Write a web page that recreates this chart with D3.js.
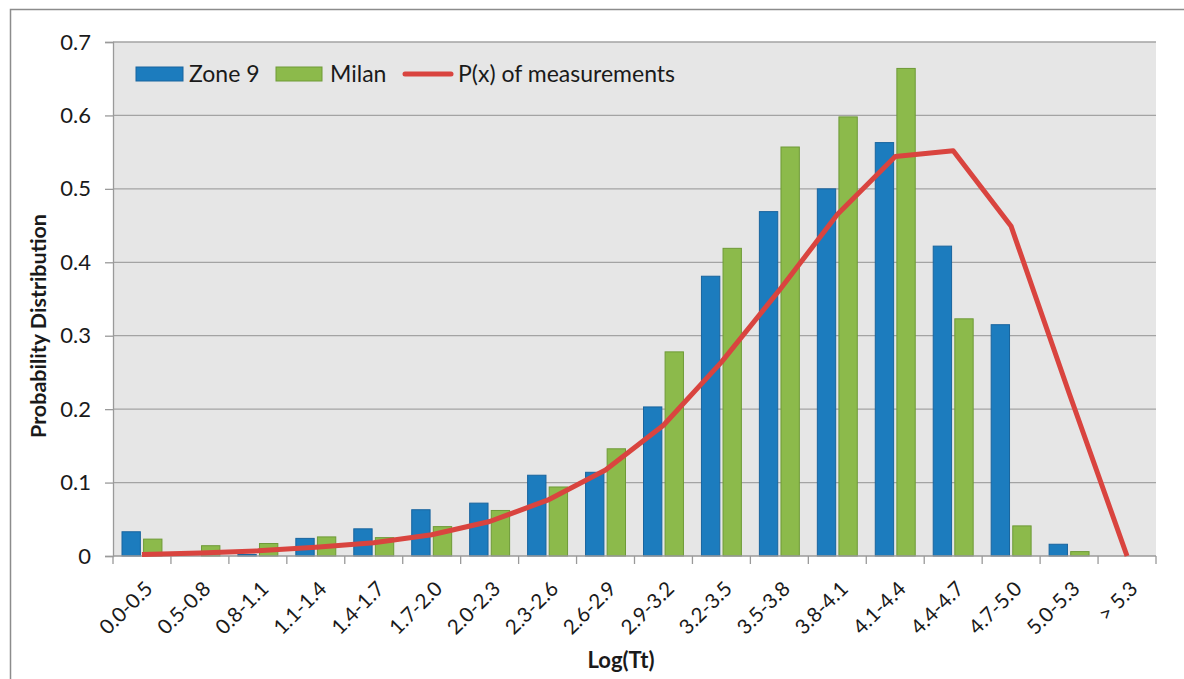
<!DOCTYPE html>
<html>
<head>
<meta charset="utf-8">
<script src="https://cdn.jsdelivr.net/npm/d3@7/dist/d3.min.js"></script>
<style>
  html, body { margin: 0; padding: 0; background: #fff; }
  svg { display: block; font-family: Lato, "Open Sans", sans-serif; }
</style>
</head>
<body>
<svg id="chart" width="1184" height="679"></svg>
<script>
// Log(Tt) bins
const categories = ["0.0-0.5","0.5-0.8","0.8-1.1","1.1-1.4","1.4-1.7","1.7-2.0","2.0-2.3","2.3-2.6","2.6-2.9",
  "2.9-3.2","3.2-3.5","3.5-3.8","3.8-4.1","4.1-4.4","4.4-4.7","4.7-5.0","5.0-5.3","> 5.3"];

// Probability per bin
const zone9 = [0.033, 0.0, 0.002, 0.024, 0.037, 0.063, 0.072, 0.110, 0.114,
  0.203, 0.381, 0.469, 0.500, 0.563, 0.422, 0.315, 0.016, 0];
const milan = [0.023, 0.014, 0.017, 0.026, 0.025, 0.040, 0.062, 0.094, 0.146,
  0.278, 0.419, 0.557, 0.598, 0.664, 0.323, 0.041, 0.006, 0];
const pxMeasured = [0.002, 0.004, 0.007, 0.012, 0.018, 0.029, 0.047, 0.076, 0.117,
  0.178, 0.264, 0.362, 0.465, 0.544, 0.552, 0.449, 0.222, 0.0];

const yTicks = [0, 0.1, 0.2, 0.3, 0.4, 0.5, 0.6, 0.7];
const seriesNames = ["Zone 9", "Milan"];
const seriesColors = { "Zone 9": "#1c7cbe", "Milan": "#8cba4b" };
const seriesStroke = { "Zone 9": "#18649e", "Milan": "#6e9a37" };
const lineName = "P(x) of measurements";
const lineColor = "#d9443f";

const svg = d3.select("#chart");

// outer chart frame
svg.append("rect")
  .attr("x", 10.5).attr("y", 9.5).attr("width", 1190).attr("height", 700)
  .attr("fill", "#fff").attr("stroke", "#8c8c8c").attr("stroke-width", 1.5);

const plot = { left: 113, right: 1156, top: 42, bottom: 556 };

const x = d3.scaleBand().domain(categories).range([plot.left, plot.right]).padding(0);
const xs = d3.scaleBand().domain(seriesNames).range([9, x.step() - 9]).paddingInner(0.15);
const y = d3.scaleLinear().domain([0, 0.7]).range([plot.bottom, plot.top]);

// plot background
svg.append("rect")
  .attr("x", plot.left).attr("y", plot.top)
  .attr("width", plot.right - plot.left).attr("height", plot.bottom - plot.top)
  .attr("fill", "#e6e6e6");

// horizontal gridlines
svg.append("g").selectAll("line").data(yTicks.filter(d => d > 0)).join("line")
  .attr("x1", plot.left).attr("x2", plot.right)
  .attr("y1", d => y(d)).attr("y2", d => y(d))
  .attr("stroke", "#a3a3a3").attr("stroke-width", 1.3);

// y axis
const yAxis = svg.append("g")
  .attr("transform", `translate(${plot.left},0)`)
  .call(d3.axisLeft(y).tickValues(yTicks).tickFormat(d => d === 0 ? "0" : d3.format(".1f")(d)).tickSize(8).tickPadding(14));
yAxis.select(".domain").attr("stroke", "#9a9a9a").attr("stroke-width", 1.3);
yAxis.selectAll(".tick line").attr("stroke", "#9a9a9a").attr("stroke-width", 1.3);
yAxis.selectAll(".tick text").attr("font-size", 22).attr("fill", "#1a1a1a")
  .attr("font-family", "Lato, sans-serif");

// bars
const groups = svg.append("g").selectAll("g").data(categories).join("g")
  .attr("transform", d => `translate(${x(d)},0)`);
groups.selectAll("rect")
  .data((d, i) => [
    { s: "Zone 9", v: zone9[i] },
    { s: "Milan", v: milan[i] }
  ].filter(e => e.v > 0))
  .join("rect")
  .attr("x", e => xs(e.s))
  .attr("width", xs.bandwidth())
  .attr("y", e => y(e.v))
  .attr("height", e => y(0) - y(e.v))
  .attr("fill", e => seriesColors[e.s])
  .attr("stroke", e => seriesStroke[e.s])
  .attr("stroke-width", 1);

// x axis with ticks at bin boundaries
const xAxisG = svg.append("g").attr("transform", `translate(0,${plot.bottom})`);
xAxisG.append("line")
  .attr("x1", plot.left).attr("x2", plot.right)
  .attr("stroke", "#9a9a9a").attr("stroke-width", 1.3);
const bounds = categories.map(c => x(c)).concat([plot.right]);
xAxisG.selectAll("line.tick").data(bounds).join("line")
  .attr("class", "tick")
  .attr("x1", d => d).attr("x2", d => d).attr("y1", 0).attr("y2", 8)
  .attr("stroke", "#9a9a9a").attr("stroke-width", 1.3);
xAxisG.selectAll("text").data(categories).join("text")
  .attr("transform", d => `translate(${x(d) + x.bandwidth() / 2 + 12},${34}) rotate(-45)`)
  .attr("text-anchor", "end")
  .attr("font-size", 20.5)
  .attr("fill", "#1a1a1a")
  .text(d => d);

// measured distribution line
const line = d3.line()
  .x((d, i) => x(categories[i]) + x.bandwidth() / 2)
  .y(d => y(d));
svg.append("path")
  .datum(pxMeasured)
  .attr("d", line)
  .attr("fill", "none")
  .attr("stroke", lineColor)
  .attr("stroke-width", 5)
  .attr("stroke-linejoin", "round");

// axis titles
svg.append("text")
  .attr("x", 621).attr("y", 668)
  .attr("text-anchor", "middle").attr("font-size", 22).attr("font-weight", "bold")
  .attr("fill", "#1a1a1a")
  .text("Log(Tt)");
svg.append("text")
  .attr("transform", `translate(46,326) rotate(-90)`)
  .attr("text-anchor", "middle").attr("font-size", 21.5).attr("font-weight", "bold")
  .attr("fill", "#1a1a1a")
  .text("Probability Distribution");

// legend
const legend = svg.append("g").attr("transform", "translate(136,74)");
legend.append("rect").attr("x", 0).attr("y", -7).attr("width", 47).attr("height", 14)
  .attr("fill", seriesColors["Zone 9"]).attr("stroke", seriesStroke["Zone 9"]);
legend.append("text").attr("x", 53).attr("y", 8).attr("font-size", 23).attr("fill", "#1a1a1a").text("Zone 9");
legend.append("rect").attr("x", 140).attr("y", -7).attr("width", 46).attr("height", 14)
  .attr("fill", seriesColors["Milan"]).attr("stroke", seriesStroke["Milan"]);
legend.append("text").attr("x", 194).attr("y", 8).attr("font-size", 23).attr("fill", "#1a1a1a").text("Milan");
legend.append("line").attr("x1", 269).attr("x2", 315).attr("y1", 0).attr("y2", 0)
  .attr("stroke", lineColor).attr("stroke-width", 5).attr("stroke-linecap", "round");
legend.append("text").attr("x", 322).attr("y", 8).attr("font-size", 23).attr("fill", "#1a1a1a").text(lineName);
</script>
</body>
</html>
